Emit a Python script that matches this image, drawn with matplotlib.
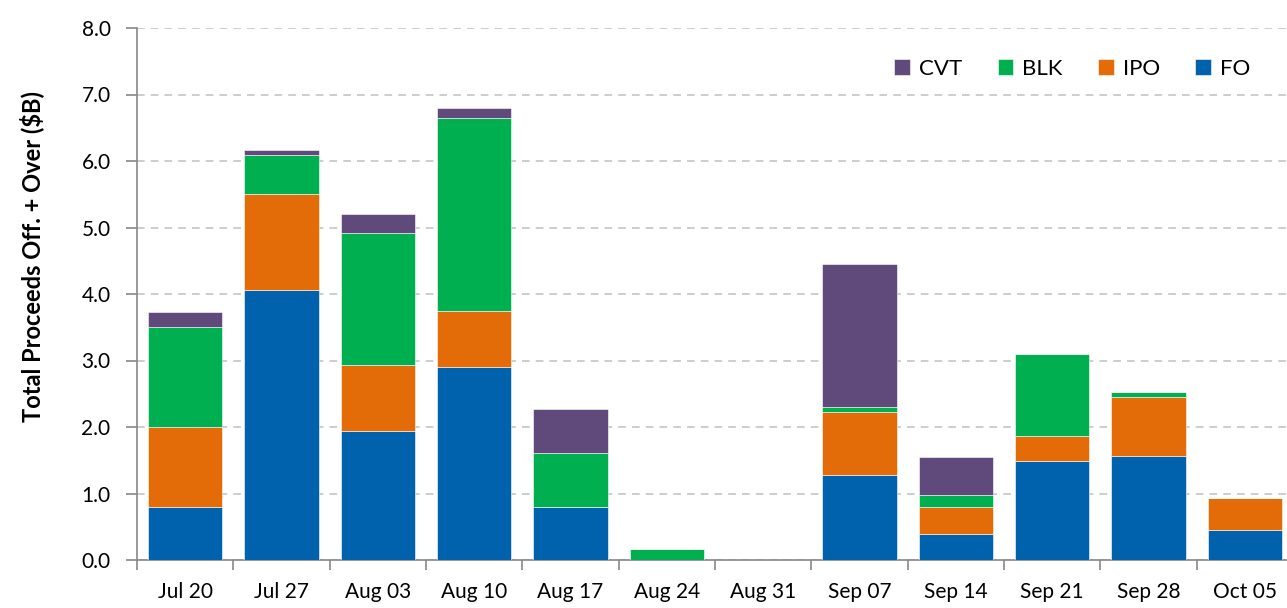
import numpy as np
import matplotlib.pyplot as plt
from matplotlib.ticker import FixedLocator

plt.rcParams["font.family"] = ["Lato", "DejaVu Sans"]

weeks = ["Jul 20", "Jul 27", "Aug 03", "Aug 10", "Aug 17", "Aug 24",
         "Aug 31", "Sep 07", "Sep 14", "Sep 21", "Sep 28", "Oct 05"]

# values in $B
fo = [0.80, 4.06, 1.94, 2.90, 0.80, 0.00, 0.00, 1.28, 0.39, 1.49, 1.56, 0.45]
ipo = [1.20, 1.44, 0.99, 0.84, 0.00, 0.00, 0.00, 0.94, 0.41, 0.37, 0.89, 0.48]
blk = [1.50, 0.59, 1.99, 2.91, 0.81, 0.165, 0.00, 0.08, 0.18, 1.24, 0.08, 0.00]
cvt = [0.23, 0.08, 0.28, 0.15, 0.66, 0.00, 0.00, 2.15, 0.57, 0.00, 0.00, 0.00]

series = [("FO", fo, "#0061AD"), ("IPO", ipo, "#E36C09"),
          ("BLK", blk, "#00B050"), ("CVT", cvt, "#604A7B")]

fig = plt.figure(figsize=(12.87, 6.08), dpi=100)
ax = fig.add_axes([137 / 1287, 48 / 608, 1156 / 1287, 532 / 608])

x = np.arange(len(weeks))
bottom = np.zeros(len(weeks))
handles = {}
for name, vals, color in series:
    vals = np.array(vals)
    h = ax.bar(x, vals, width=0.77, bottom=bottom, color=color,
               edgecolor="white", linewidth=0.4, zorder=3)
    handles[name] = h
    bottom += vals

ax.set_xlim(-0.5, len(weeks) - 0.5)
ax.set_ylim(0, 8)
ax.set_yticks(np.arange(0, 8.1, 1.0))
ax.set_yticklabels([f"{v:.1f}" for v in np.arange(0, 8.1, 1.0)], fontsize=15)
ax.set_xticks(x)
ax.set_xticklabels(weeks, fontsize=15)
ax.xaxis.set_minor_locator(FixedLocator(np.arange(-0.5, len(weeks), 1.0)))
ax.tick_params(axis="x", which="major", length=0, pad=16)
ax.tick_params(axis="x", which="minor", length=7, color="#888888", width=1.2)
ax.tick_params(axis="y", length=8, color="#888888", width=1.2, pad=11)

ax.grid(axis="y", linestyle=(0, (5, 4)), color="#c0c0c0", linewidth=1.1, zorder=0)
for s in ["top", "right"]:
    ax.spines[s].set_visible(False)
for s in ["left", "bottom"]:
    ax.spines[s].set_color("#888888")
    ax.spines[s].set_linewidth(1.2)

ax.set_ylabel("Total Proceeds Off. + Over ($B)", fontsize=17, fontweight="bold")
ax.yaxis.set_label_coords(-0.08, 0.57)

order = ["CVT", "BLK", "IPO", "FO"]
ax.legend([handles[n] for n in order], order, loc="upper right", ncol=4,
          frameon=False, fontsize=16, handlelength=0.7, handleheight=0.7,
          columnspacing=1.6, handletextpad=0.4, bbox_to_anchor=(0.98, 0.98))

fig.savefig("out.png", dpi=100)
